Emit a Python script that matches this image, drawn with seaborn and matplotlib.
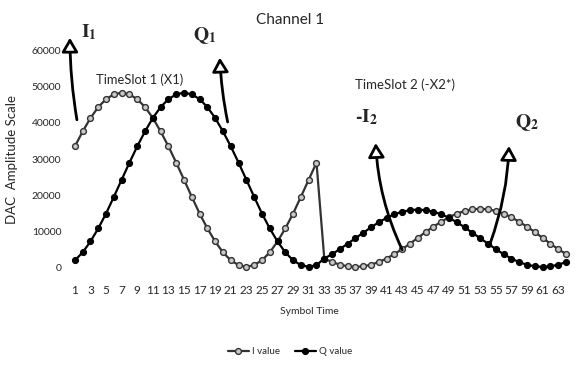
import matplotlib
matplotlib.use("Agg")
import matplotlib.pyplot as plt
import seaborn as sns
import pandas as pd
import numpy as np

symbols = list(range(1, 65))

# I value: TimeSlot 1 (1-32) then TimeSlot 2 (33-64)
i_values = [33500, 37600, 41300, 44300, 46500, 47800, 48300, 47800,
            46500, 44300, 41300, 37600, 33500, 29000, 24300, 19600,
            15000, 10900, 7300, 4300, 2100, 800, 300, 800,
            2100, 4300, 7300, 10900, 15000, 19600, 24300, 29000,
            2600, 1650, 900, 450, 300, 450, 900, 1650,
            2600, 3850, 5200, 6700, 8300, 9900, 11400, 12700,
            14000, 14950, 15700, 16150, 16300, 16150, 15700, 14950,
            14000, 12700, 11400, 9900, 8300, 6700, 5200, 3850]

q_values = [2100, 4300, 7300, 10900, 15000, 19600, 24300, 29000,
            33500, 37600, 41300, 44300, 46500, 47800, 48300, 47800,
            46500, 44300, 41300, 37600, 33500, 29000, 24300, 19600,
            15000, 10900, 7300, 4300, 2100, 800, 300, 800,
            2600, 3800, 5200, 6700, 8200, 9700, 11200, 12600,
            13800, 14800, 15500, 15900, 16100, 15900, 15500, 14800,
            13800, 12600, 11200, 9700, 8200, 6700, 5200, 3800,
            2600, 1600, 900, 450, 300, 450, 900, 1600]

x_ticks = list(range(1, 65, 2))
y_ticks = [0, 10000, 20000, 30000, 40000, 50000, 60000]

sns.set_style("white")
plt.rcParams["font.family"] = ["Lato", "DejaVu Sans"]
plt.rcParams["mathtext.fontset"] = "stix"

df = pd.DataFrame({"Symbol Time": symbols, "I value": i_values, "Q value": q_values})

fig = plt.figure(figsize=(5.8, 3.65), dpi=100)
ax = fig.add_axes([0.1224, 0.2658, 0.860, 0.597])

sns.lineplot(data=df, x="Symbol Time", y="I value", ax=ax, color="#333333", lw=1.6,
             marker="o", markersize=4.2, markerfacecolor="#c8c8c8",
             markeredgecolor="#333333", markeredgewidth=1.0, label="I value", clip_on=False)
sns.lineplot(data=df, x="Symbol Time", y="Q value", ax=ax, color="black", lw=1.6,
             marker="o", markersize=4.4, markerfacecolor="black",
             markeredgecolor="black", label="Q value", clip_on=False)

ax.set_xlim(0.5, 64.5)
ax.set_ylim(0, 60000)
ax.set_xticks(x_ticks)
ax.set_xticklabels([str(v) for v in x_ticks], fontsize=8.5)
ax.set_yticks(y_ticks)
ax.set_yticklabels([str(v) for v in y_ticks], fontsize=7.5)
ax.tick_params(length=0)
ax.tick_params(axis="x", pad=12)
ax.tick_params(axis="y", pad=7)
sns.despine(ax=ax, left=True, bottom=True)

ax.set_xlabel("")
ax.set_ylabel("DAC  Amplitude Scale", fontsize=9.5)
ax.yaxis.set_label_coords(-0.106, 0.5)

fig.text(0.5, 1 - 20 / 365, "Channel 1", ha="center", va="center", fontsize=11)
fig.text(309 / 580, 1 - 311 / 365, "Symbol Time", ha="center", va="center", fontsize=7.5)

handles, labels = ax.get_legend_handles_labels()
ax.get_legend().remove()
fig.legend(handles, labels, loc="center", bbox_to_anchor=(0.5, 1 - 352 / 365), ncol=2,
           frameon=False, fontsize=7, handlelength=2.2, handletextpad=0.3, columnspacing=1.5)

# slot labels
ax.text(9.3, 51800, "TimeSlot 1 (X1)", ha="center", va="center", fontsize=9.3)
ax.text(43.4, 50400, "TimeSlot 2 (-X2*)", ha="center", va="center", fontsize=9.5)

# component labels with hollow arrows
arrow_kw = dict(arrowstyle="-|>,head_length=0.6,head_width=0.35", fc="white", ec="black",
                lw=2.0, mutation_scale=14, shrinkA=0, shrinkB=0)
ax.text(2.8, 65000, r"$\mathbf{I_1}$", ha="center", va="center", fontsize=14)
ax.annotate("", xy=(0.36, 63400), xytext=(1.26, 40800), annotation_clip=False,
            arrowprops=dict(connectionstyle="arc3,rad=-0.04", **arrow_kw))
ax.text(17.6, 63900, r"$\mathbf{Q_1}$", ha="center", va="center", fontsize=14)
ax.annotate("", xy=(19.6, 57900), xytext=(20.6, 40200), annotation_clip=False,
            arrowprops=dict(connectionstyle="arc3,rad=-0.04", **arrow_kw))
ax.text(38.4, 41600, r"-$\mathbf{I_2}$", ha="center", va="center", fontsize=14,
        family="STIXGeneral", weight="bold")
ax.annotate("", xy=(39.6, 34400), xytext=(43.0, 5000), annotation_clip=False,
            arrowprops=dict(connectionstyle="arc3,rad=-0.1", **arrow_kw))
ax.text(59.0, 40000, r"$\mathbf{Q_2}$", ha="center", va="center", fontsize=14)
ax.annotate("", xy=(56.7, 33600), xytext=(54.3, 6900), annotation_clip=False,
            arrowprops=dict(connectionstyle="arc3,rad=0.08", **arrow_kw))

fig.savefig("out.png", dpi=100)
